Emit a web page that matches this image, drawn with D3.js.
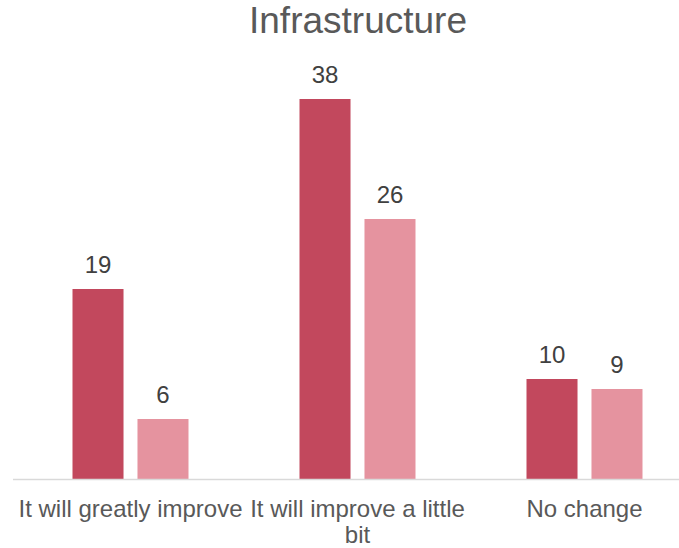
<!DOCTYPE html>
<html>
<head>
<meta charset="utf-8">
<script src="https://cdn.jsdelivr.net/npm/d3@7/dist/d3.min.js"></script>
<style>
  html, body { margin: 0; padding: 0; background: #fff; }
  svg { display: block; font-family: "Liberation Sans", Arial, sans-serif; }
</style>
</head>
<body>
<svg id="chart" width="679" height="548"></svg>
<script>
const categories = ["It will greatly improve", "It will improve a little bit", "No change"];
const seriesA = [19, 38, 10];
const seriesB = [6, 26, 9];
const seriesNames = ["A", "B"];
const colors = ["#C2485D", "#E5939F"];

const svg = d3.select("#chart");
const baseY = 479;

const x = d3.scaleBand().domain(categories).range([17, 698]);
const x1 = d3.scaleBand().domain(seriesNames).range([0, x.bandwidth()])
  .paddingInner(0.215).paddingOuter(0.854);
const y = d3.scaleLinear().domain([0, 43]).range([baseY, baseY - 430]);

svg.append("text")
  .attr("x", 358).attr("y", 33)
  .attr("text-anchor", "middle")
  .attr("font-size", 37)
  .attr("fill", "#595959")
  .text("Infrastructure");

const data = categories.map((c, i) => ({ c, vals: [seriesA[i], seriesB[i]] }));

const groups = svg.append("g").selectAll("g.grp").data(data).join("g")
  .attr("class", "grp")
  .attr("transform", d => `translate(${x(d.c)},0)`);

groups.selectAll("rect").data(d => d.vals.map((v, j) => ({ v, s: seriesNames[j], j })))
  .join("rect")
  .attr("x", d => x1(d.s))
  .attr("width", x1.bandwidth())
  .attr("y", d => y(d.v))
  .attr("height", d => y(0) - y(d.v))
  .attr("fill", d => colors[d.j]);

groups.selectAll("text.val").data(d => d.vals.map((v, j) => ({ v, s: seriesNames[j] })))
  .join("text")
  .attr("class", "val")
  .attr("x", d => x1(d.s) + x1.bandwidth() / 2)
  .attr("y", d => y(d.v) - 16)
  .attr("text-anchor", "middle")
  .attr("font-size", 24)
  .attr("fill", "#404040")
  .text(d => d.v);

// category axis line
svg.append("line")
  .attr("x1", 13).attr("x2", 679)
  .attr("y1", baseY + 0.5).attr("y2", baseY + 0.5)
  .attr("stroke", "#D9D9D9").attr("stroke-width", 1.5);

// category labels, wrapped like the original
const axisLines = [["It will greatly improve"], ["It will improve a little", "bit"], ["No change"]];
categories.forEach((c, i) => {
  const cx = x(c) + x.bandwidth() / 2;
  const t = svg.append("text")
    .attr("x", cx)
    .attr("y", 517)
    .attr("text-anchor", "middle")
    .attr("font-size", 24)
    .attr("fill", "#595959");
  axisLines[i].forEach((ln, k) => {
    t.append("tspan").attr("x", cx).attr("dy", k === 0 ? 0 : 26).text(ln);
  });
});
</script>
</body>
</html>
